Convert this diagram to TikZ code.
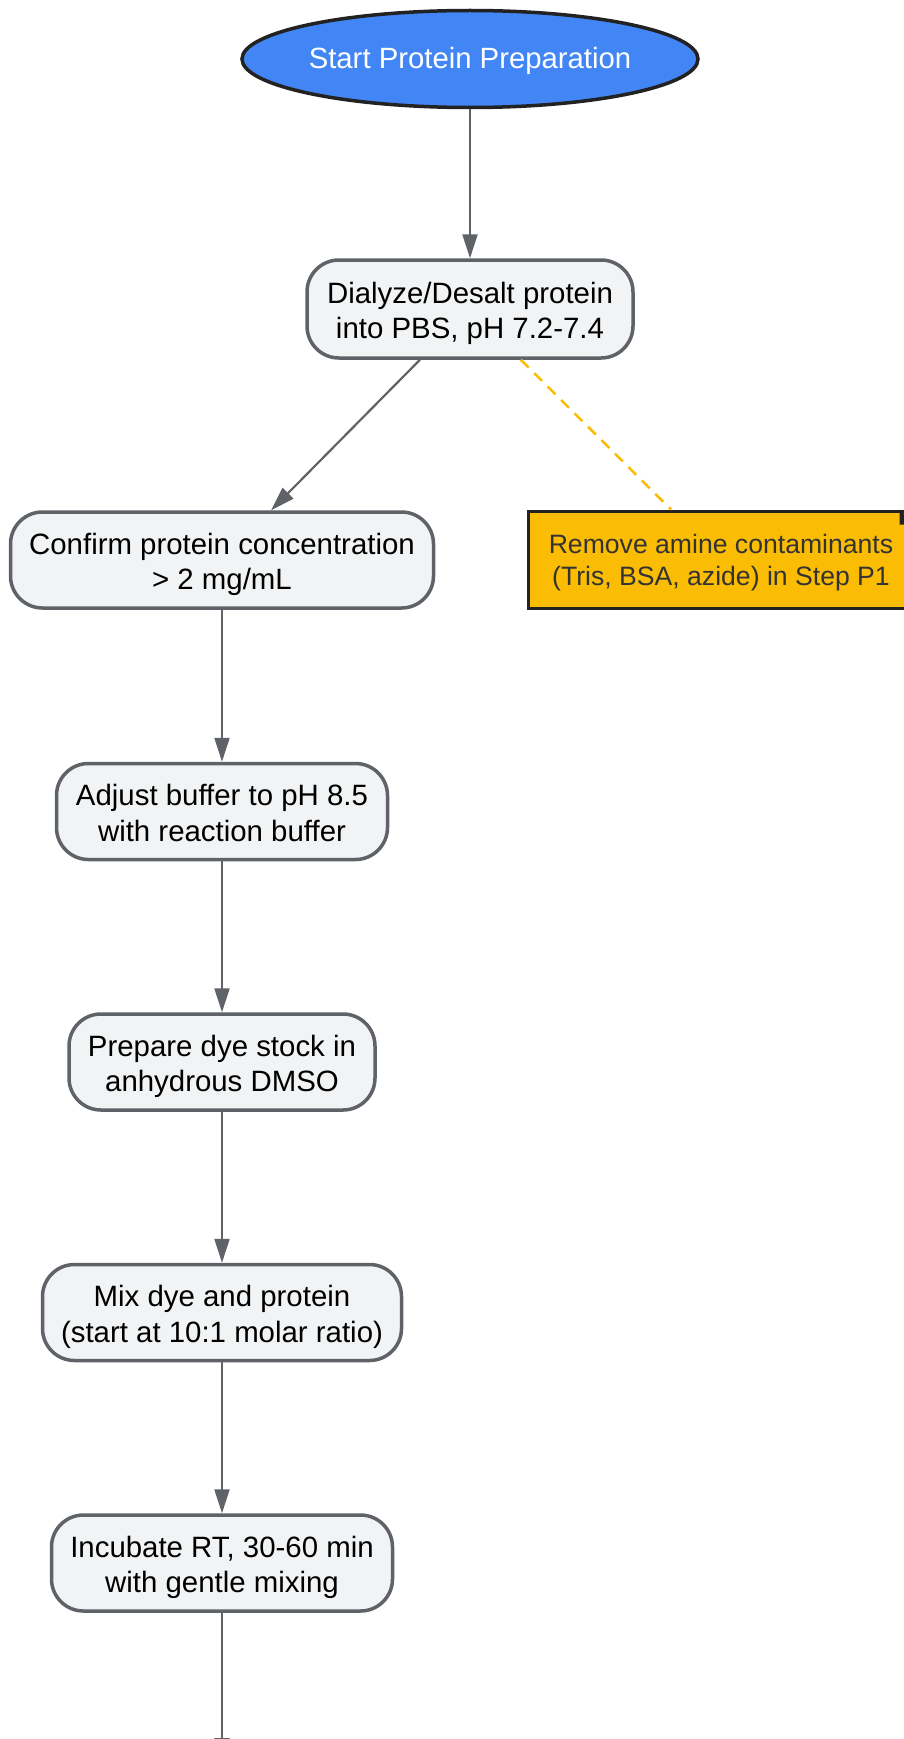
\documentclass[tikz,border=0pt]{standalone}
\usepackage{fontspec}
\setmainfont{Liberation Sans}
\usetikzlibrary{shapes.geometric,arrows.meta}
\definecolor{boxfill}{HTML}{F1F3F4}
\definecolor{boxline}{HTML}{5F6368}
\definecolor{startfill}{HTML}{4285F4}
\definecolor{darkline}{HTML}{222222}
\definecolor{notefill}{HTML}{FBBC04}
\definecolor{notetext}{HTML}{333333}
\tikzset{
  stepbox/.style={draw=boxline, fill=boxfill, line width=3.5pt, rounded corners=32pt,
    minimum height=96pt, inner sep=0pt, align=center, text height=59pt, text depth=0pt,
    font=\fontsize{29.4}{35.5}\selectfont},
  startnode/.style={ellipse, draw=darkline, fill=startfill, line width=3.5pt,
    minimum width=453pt, minimum height=97pt, inner sep=0pt, text=white,
    text height=20pt, text depth=0pt,
    font=\fontsize{29.3}{35.5}\selectfont},
  notebox/.style={draw=darkline, fill=notefill, line width=3pt, minimum width=386pt,
    minimum height=97pt, inner sep=0pt, align=center, text=notetext,
    text height=52.3pt, text depth=0pt,
    font=\fontsize{26.6}{32}\selectfont},
  arr/.style={draw=boxline, line width=2.2pt, -{Triangle[length=24pt,width=15pt]}},
  dashlink/.style={draw=notefill, line width=2.5pt, dash pattern=on 11pt off 8pt}
}
\begin{document}
\begin{tikzpicture}[x=1pt,y=-1pt]
\fill[white] (0,0) rectangle (904,1739);
\useasboundingbox (0,0) rectangle (904,1739);
\node[startnode] (start) at (470,59) {Start Protein Preparation};
\node[stepbox, minimum width=326pt, minimum height=98pt] (dial) at (470,309) {Dialyze/Desalt protein\\into PBS, pH 7.2-7.4};
\node[stepbox, minimum width=423pt] (conf) at (222,560) {Confirm protein concentration\\> 2 mg/mL};
\node[notebox] (note) at (721,559.5) {Remove amine contaminants\\(Tris, BSA, azide) in Step P1};
\node[stepbox, minimum width=331pt] (adj) at (222,811.5) {Adjust buffer to pH 8.5\\with reaction buffer};
\node[stepbox, minimum width=306pt] (prep) at (222,1062) {Prepare dye stock in\\anhydrous DMSO};
\node[stepbox, minimum width=359pt] (mix) at (222,1312.5) {Mix dye and protein\\(start at 10:1 molar ratio)};
\node[stepbox, minimum width=341pt] (inc) at (222,1563) {Incubate RT, 30-60 min\\with gentle mixing};
\coordinate (end) at (222,1762);
% note fold
\fill[darkline] (note.north east) ++(-16,0) -- ++(0,15) -- ++(15,0) -- cycle;
\draw[arr] (start) -- (dial);
\draw[arr] (dial) -- (conf);
\draw[dashlink] (dial) -- (note);
\draw[arr] (conf) -- (adj);
\draw[arr] (adj) -- (prep);
\draw[arr] (prep) -- (mix);
\draw[arr] (mix) -- (inc);
\draw[arr] (inc) -- (end);
\end{tikzpicture}
\end{document}
